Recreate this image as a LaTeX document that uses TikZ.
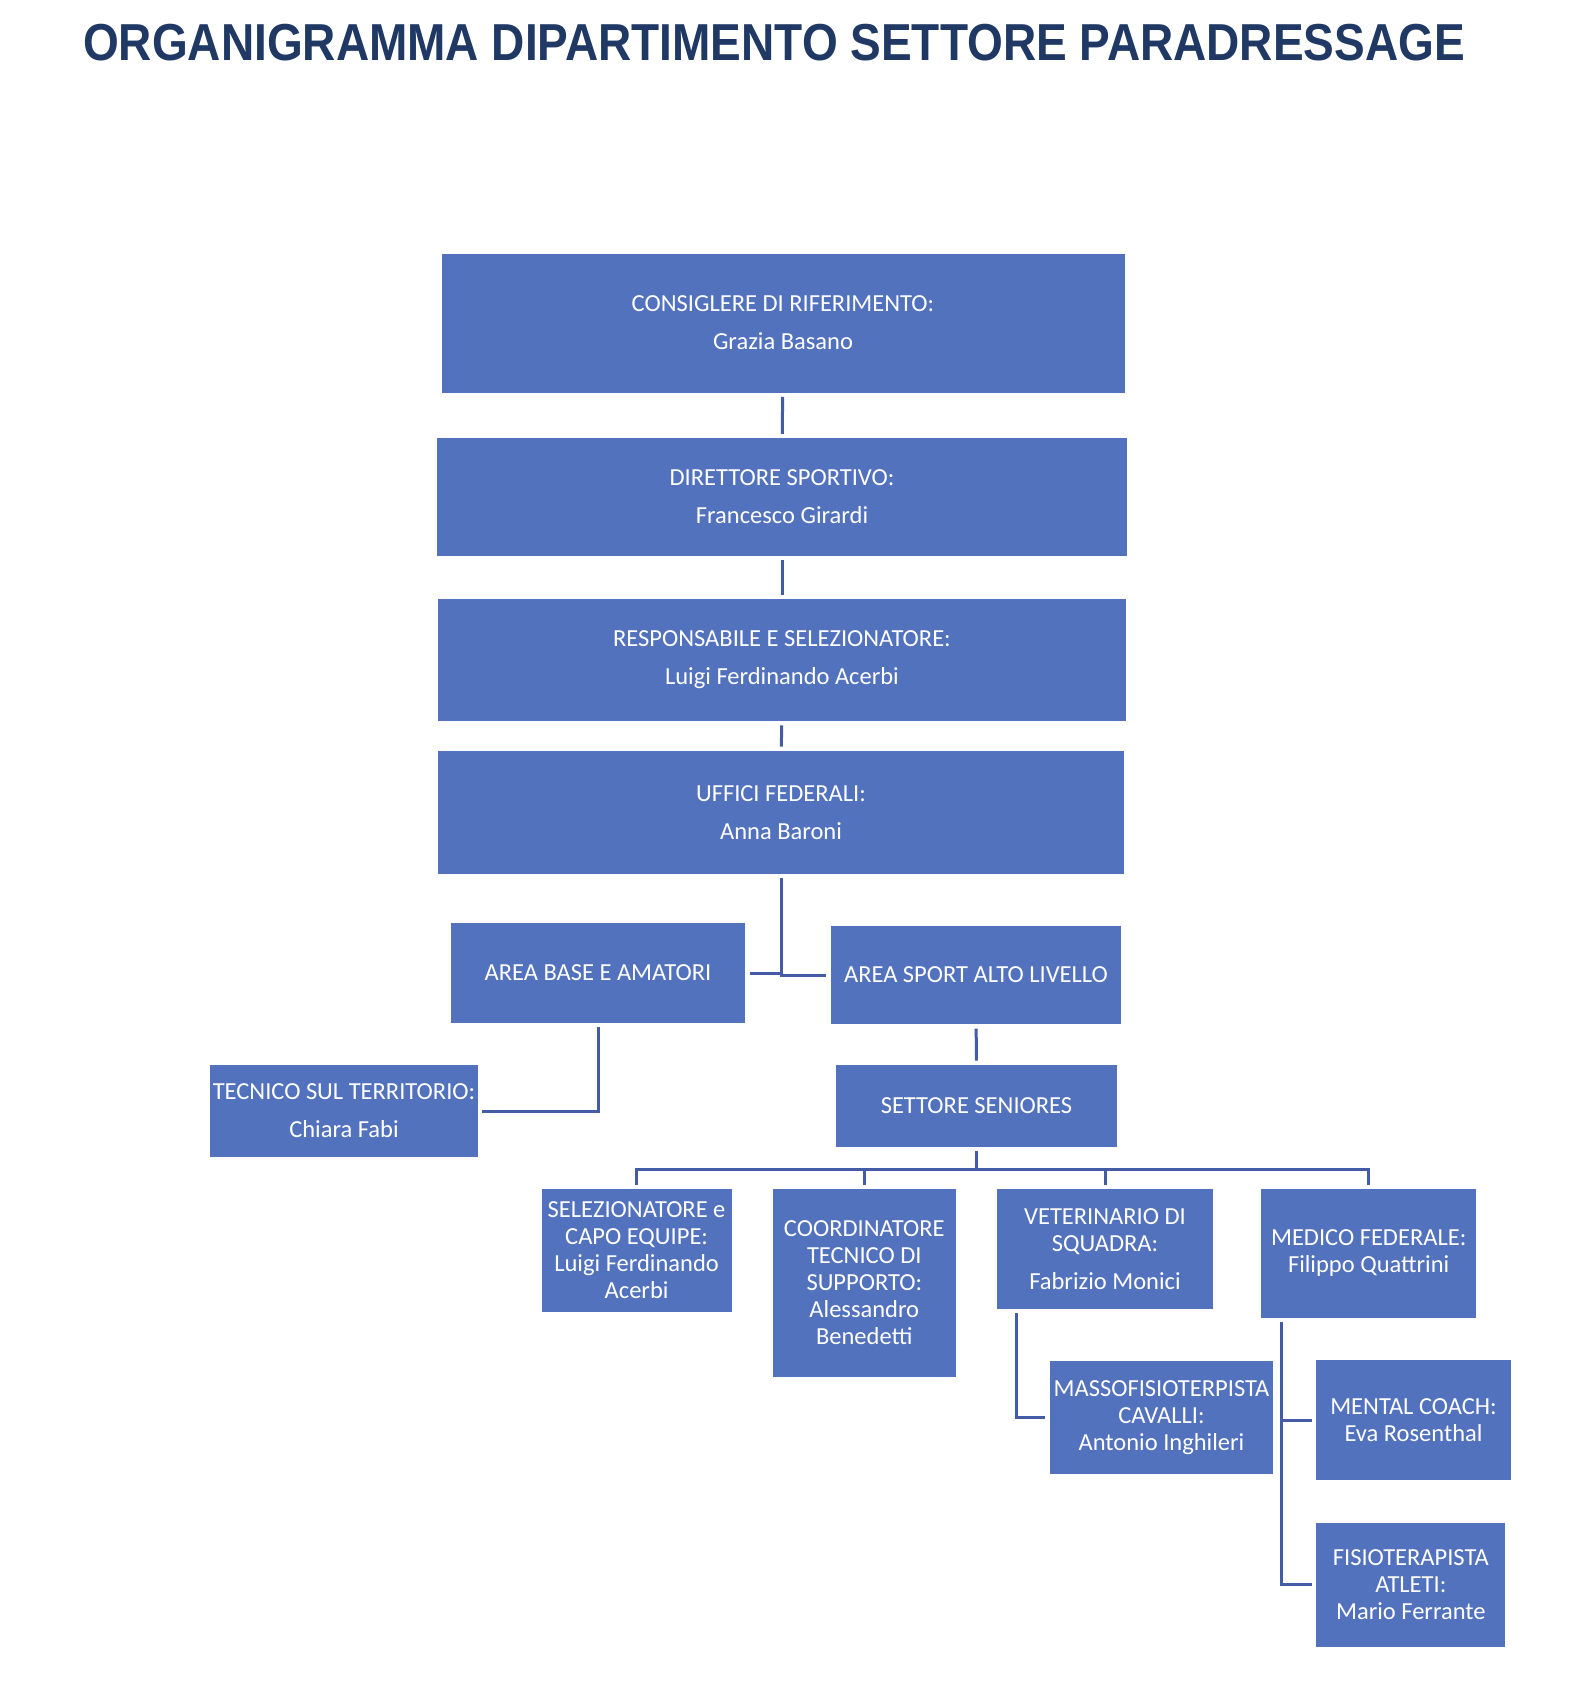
\documentclass[tikz,border=0pt]{standalone}
\usepackage{fontspec}
\setmainfont{Carlito}
\newfontfamily\titlefont{Liberation Sans}
\usepackage{graphicx}
\usetikzlibrary{calc}
\definecolor{boxblue}{RGB}{82,114,190}
\definecolor{linkblue}{RGB}{68,92,165}
\definecolor{titlenavy}{RGB}{31,56,100}

\begin{document}
\begin{tikzpicture}[x=0.5pt,y=-0.5pt,
    box/.style={fill=boxblue,text=white,inner sep=0pt,align=center,
                font=\fontsize{12.25}{13.5}\selectfont},
    link/.style={draw=linkblue,line width=1.5pt,shorten <=2pt,shorten >=2pt}
]
  \useasboundingbox[fill=white] (0,0) rectangle (1570,1692);

  % Title
  \node[anchor=base,text=titlenavy,font=\titlefont\bfseries\fontsize{26}{30}\selectfont]
    (title) at (774,60) {\resizebox{691pt}{\height}{ORGANIGRAMMA DIPARTIMENTO SETTORE PARADRESSAGE}};

  % Top chain
  \node[box,minimum width=341.5pt,minimum height=69.5pt] (cons) at (783,323)
    {CONSIGLERE DI RIFERIMENTO:\\[5.4pt]Grazia Basano};
  \node[box,minimum width=345.3pt,minimum height=58.8pt] (dir) at (782,497)
    {DIRETTORE SPORTIVO:\\[5.4pt]Francesco Girardi};
  \node[box,minimum width=344.3pt,minimum height=61pt] (resp) at (782,660)
    {RESPONSABILE E SELEZIONATORE:\\[5.4pt]Luigi Ferdinando Acerbi};
  \node[box,minimum width=343pt,minimum height=61.5pt] (uff) at (781,812.5)
    {UFFICI FEDERALI:\\[5.4pt]Anna Baroni};

  % Areas
  \node[box,minimum width=147.3pt,minimum height=49.7pt] (base) at (598,973)
    {AREA BASE E AMATORI};
  \node[box,minimum width=145.2pt,minimum height=49.1pt] (sport) at (976,975)
    {AREA SPORT ALTO LIVELLO};
  \node[box,minimum width=133.8pt,minimum height=45.9pt] (tec) at (344,1111)
    {TECNICO SUL TERRITORIO:\\[5.4pt]Chiara Fabi};
  \node[box,minimum width=140.3pt,minimum height=41pt] (sen) at (976.5,1106)
    {SETTORE SENIORES};

  % Staff
  \node[box,minimum width=95pt,minimum height=61.5pt] (selez) at (636.6,1250.6)
    {SELEZIONATORE e\\CAPO EQUIPE:\\Luigi Ferdinando\\Acerbi};
  \node[box,minimum width=91.7pt,minimum height=93.9pt] (coord) at (864.3,1283)
    {COORDINATORE\\TECNICO DI\\SUPPORTO:\\Alessandro\\Benedetti};
  \node[box,minimum width=107.9pt,minimum height=59.9pt] (vet) at (1105,1249)
    {VETERINARIO DI\\SQUADRA:\\[5.4pt]Fabrizio Monici};
  \node[box,minimum width=107.4pt,minimum height=64.2pt] (med) at (1368.7,1253.3)
    {MEDICO FEDERALE:\\Filippo Quattrini};
  \node[box,minimum width=111.7pt,minimum height=56.7pt] (masso) at (1161.5,1417.3)
    {MASSOFISIOTERPISTA\\CAVALLI:\\Antonio Inghileri};
  \node[box,minimum width=97.1pt,minimum height=60.4pt] (mental) at (1413.5,1420)
    {MENTAL COACH:\\Eva Rosenthal};
  \node[box,minimum width=94.4pt,minimum height=62pt] (fisio) at (1410.8,1584.5)
    {FISIOTERAPISTA\\ATLETI:\\Mario Ferrante};

  % Connectors
  \draw[link] (cons) -- (dir);
  \draw[link] (dir) -- (resp);
  \draw[link] (resp) -- (uff);
  \draw[link] (uff.south) |- (sport.west);
  \draw[link,shorten >=0pt] (base.east) -- (base.east -| uff.south);
  \draw[link] (base.south) |- (tec.east);
  \draw[link] (sport) -- (sen);
  \coordinate (bus) at ($(sen.south)+(0,21.6)$);
  \foreach \n in {selez,coord,vet,med}
    \draw[link] (sen.south) |- (bus) -| (\n.north);
  \draw[link] ($(vet.south west)+(19.4,0)$) |- (masso.west);
  \draw[link] ($(med.south west)+(20.5,0)$) |- (mental.west);
  \draw[link] ($(med.south west)+(20.5,0)$) |- (fisio.west);
\end{tikzpicture}
\end{document}
